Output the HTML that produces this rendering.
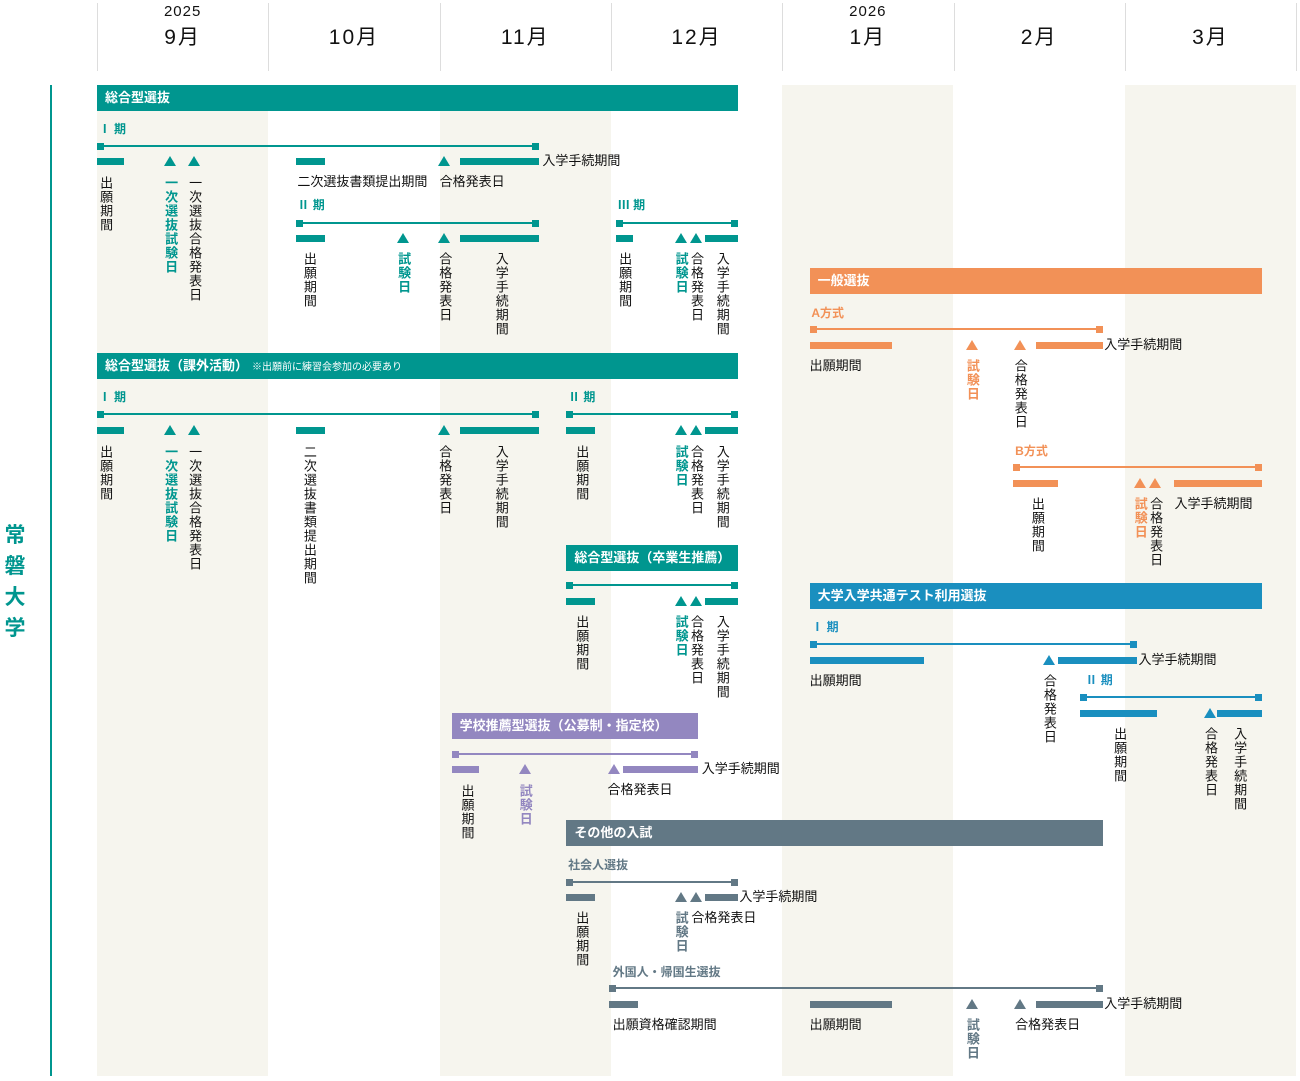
<!DOCTYPE html>
<html><head><meta charset="utf-8"><style>
body{margin:0;background:#fff;}
#root{position:relative;width:1300px;height:1081px;overflow:hidden;background:#fff;font-family:"Liberation Sans","Noto Sans CJK JP",sans-serif;}
.abs{position:absolute;}
.hd{position:absolute;height:26px;color:#fff;font-weight:bold;font-size:13px;line-height:26px;padding-left:8px;box-sizing:border-box;white-space:nowrap;}
.lb{position:absolute;font-weight:bold;font-size:12px;line-height:14px;white-space:nowrap;}
.ln{position:absolute;height:1.5px;}
.sq{position:absolute;width:7px;height:7px;}
.br{position:absolute;height:7px;}
.tr{position:absolute;width:0;height:0;border-left:6.5px solid transparent;border-right:6.5px solid transparent;border-bottom:10px solid;}
.vt{position:absolute;writing-mode:vertical-rl;font-size:13px;line-height:14px;letter-spacing:1px;white-space:nowrap;color:#111;}
.ht{position:absolute;font-size:13px;line-height:16px;white-space:nowrap;color:#111;}
.acc{font-weight:bold;}
</style></head><body>
<div id="root"></div>
<script>
// timeline: months from Sep 2025 (0) to Mar 2026 (6)
const monthLabels=["9月","10月","11月","12月","1月","2月","3月"];
const yearLabels=["2025","","","","2026","",""];
const shadedMonths=[0,2,4,6];
const colors={teal:"#00968f",orange:"#f29157",blue:"#1a8fbf",purple:"#9387c0",slate:"#627885"};
// items: [type, start(month), end(month), y, text, section color, accent]
const items1=[
["hd",0,3.74,85,"総合型選抜","teal"],
["lb",0.01,0,129,"Ⅰ 期","teal"],
["ln",0,2.58,146,"","teal"],
["br",0,0.16,161,"","teal"],["tr",0.43,0,161,"","teal"],["tr",0.57,0,161,"","teal"],
["br",1.16,1.33,161,"","teal"],["tr",2.03,0,161,"","teal"],["br",2.12,2.58,161,"","teal"],
["ht",2.60,0,161,"入学手続期間","teal"],
["vt",0.05,0,176,"出願期間","teal"],["vt",0.43,0,176,"一次選抜試験日","teal",1],["vt",0.57,0,176,"一次選抜合格発表日","teal"],
["ht",1.17,0,182,"二次選抜書類提出期間","teal"],["ht",2.00,0,182,"合格発表日","teal"],
["lb",1.17,0,205,"Ⅱ 期","teal"],["ln",1.16,2.58,223,"","teal"],
["br",1.16,1.33,238,"","teal"],["tr",1.79,0,238,"","teal"],["tr",2.03,0,238,"","teal"],["br",2.12,2.58,238,"","teal"],
["vt",1.24,0,252,"出願期間","teal"],["vt",1.79,0,252,"試験日","teal",1],["vt",2.03,0,252,"合格発表日","teal"],["vt",2.36,0,252,"入学手続期間","teal"],
["lb",3.04,0,205,"Ⅲ 期","teal"],["ln",3.03,3.74,223,"","teal"],
["br",3.03,3.13,238,"","teal"],["tr",3.41,0,238,"","teal"],["tr",3.50,0,238,"","teal"],["br",3.55,3.74,238,"","teal"],
["vt",3.08,0,252,"出願期間","teal"],["vt",3.41,0,252,"試験日","teal",1],["vt",3.50,0,252,"合格発表日","teal"],["vt",3.65,0,252,"入学手続期間","teal"]
];
const items2=[
["hd",0,3.74,353,"総合型選抜（課外活動）<span style='font-size:10px;font-weight:normal;margin-left:4px'>※出願前に練習会参加の必要あり</span>","teal"],
["lb",0.01,0,397,"Ⅰ 期","teal"],["ln",0,2.58,414,"","teal"],
["br",0,0.16,430,"","teal"],["tr",0.43,0,430,"","teal"],["tr",0.57,0,430,"","teal"],["br",1.16,1.33,430,"","teal"],["tr",2.03,0,430,"","teal"],["br",2.12,2.58,430,"","teal"],
["vt",0.05,0,445,"出願期間","teal"],["vt",0.43,0,445,"一次選抜試験日","teal",1],["vt",0.57,0,445,"一次選抜合格発表日","teal"],["vt",1.24,0,445,"二次選抜書類提出期間","teal"],["vt",2.03,0,445,"合格発表日","teal"],["vt",2.36,0,445,"入学手続期間","teal"],
["lb",2.75,0,397,"Ⅱ 期","teal"],["ln",2.74,3.74,414,"","teal"],
["br",2.74,2.91,430,"","teal"],["tr",3.41,0,430,"","teal"],["tr",3.50,0,430,"","teal"],["br",3.55,3.74,430,"","teal"],
["vt",2.83,0,445,"出願期間","teal"],["vt",3.41,0,445,"試験日","teal",1],["vt",3.50,0,445,"合格発表日","teal"],["vt",3.65,0,445,"入学手続期間","teal"],
["hd",2.74,3.74,545,"総合型選抜（卒業生推薦）","teal"],["ln",2.74,3.74,585,"","teal"],
["br",2.74,2.91,601,"","teal"],["tr",3.41,0,601,"","teal"],["tr",3.50,0,601,"","teal"],["br",3.55,3.74,601,"","teal"],
["vt",2.83,0,615,"出願期間","teal"],["vt",3.41,0,615,"試験日","teal",1],["vt",3.50,0,615,"合格発表日","teal"],["vt",3.65,0,615,"入学手続期間","teal"]
];
const items3=[
["hd",2.07,3.51,713,"学校推薦型選抜（公募制・指定校）","purple"],["ln",2.07,3.51,754,"","purple"],
["br",2.07,2.23,769,"","purple"],["tr",2.50,0,769,"","purple"],["tr",3.02,0,769,"","purple"],["br",3.07,3.51,769,"","purple"],
["ht",3.53,0,769,"入学手続期間","purple"],
["vt",2.16,0,784,"出願期間","purple"],["vt",2.50,0,784,"試験日","purple",1],["ht",2.98,0,790,"合格発表日","purple"],
["hd",2.74,5.87,820,"その他の入試","slate"],
["lb",2.75,0,865,"社会人選抜","slate"],["ln",2.74,3.74,882,"","slate"],
["br",2.74,2.91,897,"","slate"],["tr",3.41,0,897,"","slate"],["tr",3.50,0,897,"","slate"],["br",3.55,3.74,897,"","slate"],
["ht",3.75,0,897,"入学手続期間","slate"],
["vt",2.83,0,911,"出願期間","slate"],["vt",3.41,0,911,"試験日","slate",1],["ht",3.47,0,918,"合格発表日","slate"],
["lb",3.01,0,972,"外国人・帰国生選抜","slate"],["ln",2.99,5.87,988,"","slate"],
["br",2.99,3.16,1004,"","slate"],["br",4.16,4.64,1004,"","slate"],["tr",5.11,0,1004,"","slate"],["tr",5.39,0,1004,"","slate"],["br",5.48,5.87,1004,"","slate"],
["ht",5.88,0,1004,"入学手続期間","slate"],
["ht",3.01,0,1025,"出願資格確認期間","slate"],["ht",4.16,0,1025,"出願期間","slate"],["vt",5.11,0,1018,"試験日","slate",1],["ht",5.36,0,1025,"合格発表日","slate"]
];
const items4=[
["hd",4.16,6.80,268,"一般選抜","orange"],
["lb",4.17,0,313,"A方式","orange"],["ln",4.16,5.87,329,"","orange"],
["br",4.16,4.64,345,"","orange"],["tr",5.11,0,345,"","orange"],["tr",5.39,0,345,"","orange"],["br",5.48,5.87,345,"","orange"],
["ht",5.88,0,345,"入学手続期間","orange"],
["ht",4.16,0,366,"出願期間","orange"],["vt",5.11,0,359,"試験日","orange",1],["vt",5.39,0,359,"合格発表日","orange"],
["lb",5.36,0,451,"B方式","orange"],["ln",5.35,6.80,467,"","orange"],
["br",5.35,5.61,483,"","orange"],["tr",6.09,0,483,"","orange"],["tr",6.18,0,483,"","orange"],["br",6.29,6.80,483,"","orange"],
["vt",5.49,0,497,"出願期間","orange"],["vt",6.09,0,497,"試験日","orange",1],["vt",6.18,0,497,"合格発表日","orange"],["ht",6.29,0,504,"入学手続期間","orange"],
["hd",4.16,6.80,583,"大学入学共通テスト利用選抜","blue"],
["lb",4.17,0,627,"Ⅰ 期","blue"],["ln",4.16,6.07,644,"","blue"],
["br",4.16,4.83,660,"","blue"],["tr",5.56,0,660,"","blue"],["br",5.61,6.07,660,"","blue"],["ht",6.08,0,660,"入学手続期間","blue"],
["ht",4.16,0,681,"出願期間","blue"],["vt",5.56,0,674,"合格発表日","blue"],
["lb",5.77,0,680,"Ⅱ 期","blue"],["ln",5.74,6.80,697,"","blue"],
["br",5.74,6.19,713,"","blue"],["tr",6.50,0,713,"","blue"],["br",6.54,6.80,713,"","blue"],
["vt",5.97,0,727,"出願期間","blue"],["vt",6.50,0,727,"合格発表日","blue"],["vt",6.67,0,727,"入学手続期間","blue"]
];
const X0=97, MW=171.3;
function X(m){return X0+m*MW;}
const root=document.getElementById('root');
function add(cls,name,css,html){
  const el=document.createElement('div');
  el.className=cls;
  
  
  el.style.cssText=css;
  if(html) el.innerHTML=html;
  root.appendChild(el);
  return el;
}
shadedMonths.forEach(m=>{add('abs','month-shade',`left:${X(m)}px;top:85px;width:${MW}px;height:991px;background:#f6f5ee;`);});
monthLabels.forEach((t,i)=>{
  add('abs','month-divider',`left:${X(i)}px;top:3px;width:1px;height:68px;background:#ddd;`);
  add('abs','month-label',`left:${X(i)}px;top:24px;width:${MW}px;text-align:center;font-size:21px;letter-spacing:2px;line-height:28px;color:#111;`,t);
  if(yearLabels[i]) add('abs','year-label',`left:${X(i)}px;top:3px;width:${MW}px;text-align:center;font-size:15px;letter-spacing:1px;line-height:18px;color:#111;`,yearLabels[i]);
});
add('abs','month-divider',`left:${X(7)}px;top:3px;width:1px;height:68px;background:#ddd;`);
add('abs','university-axis-line','left:50px;top:85px;width:1.5px;height:991px;background:#00968f;');
add('abs','university-name','left:3px;top:520px;width:24px;font-size:21px;line-height:31px;font-weight:bold;color:#00968f;text-align:center;','常<br>磐<br>大<br>学');
function draw(list){
  list.forEach(it=>{
    const [t,a,b,y,txt,ck,acc]=it;const c=colors[ck];
    if(t==='hd') add('hd','section-header',`left:${X(a)}px;top:${y}px;width:${X(b)-X(a)}px;background:${c};`,txt);
    else if(t==='lb') add('lb','period-label',`left:${X(a)}px;top:${y-7}px;color:${c};`,txt);
    else if(t==='ln'){
      add('ln','period-line',`left:${X(a)}px;top:${y-0.75}px;width:${X(b)-X(a)}px;background:${c};`);
      add('sq','period-start',`left:${X(a)}px;top:${y-3.5}px;background:${c};`);
      add('sq','period-end',`left:${X(b)-7}px;top:${y-3.5}px;background:${c};`);
    }
    else if(t==='br') add('br','period-bar',`left:${X(a)}px;top:${y-3.5}px;width:${X(b)-X(a)}px;background:${c};`);
    else if(t==='tr') add('tr','date-marker',`left:${X(a)-6.5}px;top:${y-5}px;border-bottom-color:${c};`);
    else if(t==='vt') add('vt'+(acc?' acc':''),'event-label',`left:${X(a)-7.5}px;top:${y}px;${acc?'color:'+c+';':''}`,txt);
    else if(t==='ht') add('ht','event-label',`left:${X(a)}px;top:${y-8}px;`,txt);
  });
}
draw(items1);draw(items2);draw(items3);draw(items4);
</script>
</body></html>
